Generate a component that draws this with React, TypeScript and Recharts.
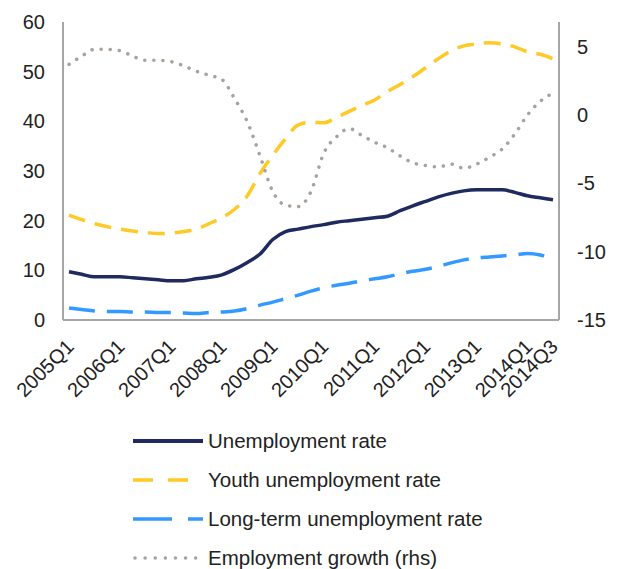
import { Line, LineChart, XAxis, YAxis } from "recharts";

const quarters = [
  "2005Q1", "2005Q2", "2005Q3", "2005Q4",
  "2006Q1", "2006Q2", "2006Q3", "2006Q4",
  "2007Q1", "2007Q2", "2007Q3", "2007Q4",
  "2008Q1", "2008Q2", "2008Q3", "2008Q4",
  "2009Q1", "2009Q2", "2009Q3", "2009Q4",
  "2010Q1", "2010Q2", "2010Q3", "2010Q4",
  "2011Q1", "2011Q2", "2011Q3", "2011Q4",
  "2012Q1", "2012Q2", "2012Q3", "2012Q4",
  "2013Q1", "2013Q2", "2013Q3", "2013Q4",
  "2014Q1", "2014Q2", "2014Q3",
];

const unemployment = [
  9.7, 9.2, 8.7, 8.7, 8.7, 8.5, 8.3, 8.1, 7.9, 7.9,
  8.3, 8.6, 9.1, 10.2, 11.6, 13.3, 16.2, 17.8, 18.3, 18.8,
  19.2, 19.7, 20.0, 20.3, 20.6, 20.9, 22.0, 23.0, 23.9, 24.8,
  25.5, 26.0, 26.2, 26.2, 26.2, 25.7, 25.0, 24.6, 24.2,
];

const youth = [
  21.1, 20.2, 19.4, 18.8, 18.3, 17.9, 17.6, 17.4, 17.5, 17.8,
  18.3, 19.4, 20.6, 22.3, 25.0, 29.5, 33.2, 36.5, 39.3, 39.8,
  39.7, 40.8, 42.0, 43.2, 44.3, 46.0, 47.4, 49.0, 50.8, 52.6,
  54.2, 55.2, 55.6, 55.8, 55.6, 55.0, 54.0, 53.5, 52.6,
];

const longTerm = [
  2.4, 2.1, 1.8, 1.7, 1.7, 1.6, 1.6, 1.5, 1.5, 1.4,
  1.3, 1.5, 1.6, 1.8, 2.3, 3.0, 3.6, 4.3, 5.0, 5.8,
  6.5, 7.0, 7.4, 7.9, 8.3, 8.7, 9.3, 9.8, 10.2, 10.8,
  11.5, 12.1, 12.5, 12.7, 12.9, 13.1, 13.4, 13.1, 12.3,
];

const employmentGrowth = [
  3.7, 4.3, 4.8, 4.8, 4.7, 4.3, 4.0, 4.0, 3.9, 3.6,
  3.2, 2.9, 2.6, 1.2, -0.5, -3.0, -5.6, -6.6, -6.7, -5.6,
  -2.8, -1.6, -1.0, -1.5, -2.0, -2.4, -3.0, -3.5, -3.7, -3.8,
  -3.6, -3.9, -3.6, -3.1, -2.5, -1.4, 0.0, 1.0, 1.6,
];

const xTicks = [
  "2005Q1", "2006Q1", "2007Q1", "2008Q1", "2009Q1", "2010Q1",
  "2011Q1", "2012Q1", "2013Q1", "2014Q1", "2014Q3",
];
const leftTicks = [0, 10, 20, 30, 40, 50, 60];
const rightTicks = [-15, -10, -5, 0, 5];

// legendDash: Excel draws the legend swatch with its own dash rhythm
const series = [
  { key: "unemp", name: "Unemployment rate", color: "#1f2a5e", dash: undefined, legendDash: undefined, width: 3.5, axis: "left", cap: "butt" },
  { key: "youth", name: "Youth unemployment rate", color: "#ffc926", dash: "17 10", legendDash: "20 15", width: 3.5, axis: "left", cap: "butt" },
  { key: "longTerm", name: "Long-term unemployment rate", color: "#3399ff", dash: "26 12", legendDash: "39 16", width: 3.5, axis: "left", cap: "butt" },
  { key: "empGrowth", name: "Employment growth (rhs)", color: "#a9a29c", dash: "0.1 9", legendDash: "0.1 10", width: 3.5, axis: "right", cap: "round" },
] as const;

const data = quarters.map((q, i) => ({
  q,
  unemp: unemployment[i],
  youth: youth[i],
  longTerm: longTerm[i],
  empGrowth: employmentGrowth[i],
}));

const font = "'Liberation Sans', Arial, sans-serif";
const axisColor = "#a6a6a6";
const tickStyle = { fontSize: 20, fill: "#222", fontFamily: font };

function XTick({ x, y, payload }: any) {
  const ax = x + 6;
  const ay = y + 20;
  return (
    <text
      x={ax}
      y={ay}
      transform={`rotate(-45, ${ax}, ${ay})`}
      textAnchor="end"
      fontSize={20}
      fill="#222"
      fontFamily={font}
    >
      {payload.value}
    </text>
  );
}

function LegendBox() {
  return (
    <div style={{ position: "absolute", left: 133, top: 421, fontFamily: font, fontSize: 20.5, color: "#222" }}>
      {series.map((s) => (
        <div key={s.key} style={{ display: "flex", alignItems: "center", height: 39 }}>
          <svg width={72} height={10} style={{ marginRight: 3 }}>
            <line
              x1={s.cap === "round" ? 2 : 0}
              y1={5}
              x2={70}
              y2={5}
              stroke={s.color}
              strokeWidth={s.key === "unemp" ? 4 : s.width}
              strokeDasharray={s.legendDash}
              strokeLinecap={s.cap}
            />
          </svg>
          <span>{s.name}</span>
        </div>
      ))}
    </div>
  );
}

export default function App() {
  return (
    <div style={{ position: "absolute", left: 0, top: 0, width: 623, height: 569, background: "#fff" }}>
      <LineChart width={623} height={420} data={data} margin={{ top: 22, right: 0, bottom: 0, left: 0 }}>
        <XAxis
          dataKey="q"
          ticks={xTicks}
          interval={0}
          tick={<XTick />}
          tickLine={false}
          axisLine={{ stroke: axisColor, strokeWidth: 2 }}
          padding={{ left: 6, right: 6 }}
          height={100}
        />
        <YAxis
          yAxisId="left"
          domain={[0, 60]}
          ticks={leftTicks}
          width={63}
          tickLine={false}
          tickSize={0}
          tickMargin={18}
          axisLine={{ stroke: axisColor, strokeWidth: 2 }}
          tick={tickStyle}
        />
        <YAxis
          yAxisId="right"
          orientation="right"
          domain={[-15, 6.8]}
          ticks={rightTicks}
          allowDataOverflow
          width={64}
          tickLine={false}
          tickSize={0}
          tickMargin={18}
          axisLine={{ stroke: axisColor, strokeWidth: 2 }}
          tick={{ ...tickStyle, textAnchor: "start" }}
        />
        {series.map((s) => (
          <Line
            key={s.key}
            yAxisId={s.axis}
            type="monotone"
            dataKey={s.key}
            name={s.name}
            stroke={s.color}
            strokeWidth={s.width}
            strokeDasharray={s.dash}
            strokeLinecap={s.cap}
            dot={false}
            activeDot={false}
            isAnimationActive={false}
          />
        ))}
      </LineChart>
      <LegendBox />
    </div>
  );
}
